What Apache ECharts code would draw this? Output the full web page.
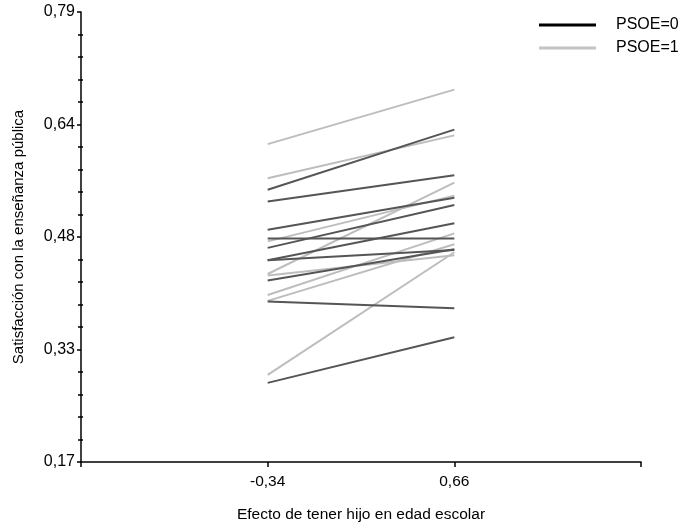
<!DOCTYPE html>
<html>
<head>
<meta charset="utf-8">
<script src="https://cdn.jsdelivr.net/npm/echarts@6/dist/echarts.min.js"></script>
<style>html,body{margin:0;padding:0;background:#fff}#c{width:695px;height:528px}</style>
</head>
<body>
<div id="c"></div>
<script>
// x positions (centred values of "tener hijo en edad escolar")
const xValues = [-0.34, 0.66];
const xTickLabels = ['-0,34', '0,66'];
const yTickLabels = ['0,17', '0,33', '0,48', '0,64', '0,79'];

// PSOE=0 lines: value at x=-0.34 and at x=0.66
const psoe0Left  = [0.545, 0.529, 0.490, 0.478, 0.465, 0.448, 0.448, 0.420, 0.391, 0.279];
const psoe0Right = [0.628, 0.565, 0.534, 0.478, 0.524, 0.499, 0.462, 0.463, 0.382, 0.342];
// PSOE=1 lines
const psoe1Left  = [0.608, 0.561, 0.474, 0.429, 0.427, 0.400, 0.392, 0.290];
const psoe1Right = [0.683, 0.620, 0.537, 0.555, 0.455, 0.485, 0.470, 0.459];

const FONT = 'Liberation Sans, Arial, sans-serif';
const darkColor = '#555555';
const lightColor = '#bdbdbd';

function makeSeries(name, left, right, color) {
  return left.map((l, i) => ({
    name: name,
    type: 'line',
    symbol: 'none',
    silent: true,
    lineStyle: { color: color, width: 2 },
    itemStyle: { color: color },
    data: [[xValues[0], l], [xValues[1], right[i]]]
  }));
}

const series = [].concat(
  makeSeries('PSOE=1', psoe1Left, psoe1Right, lightColor),
  makeSeries('PSOE=0', psoe0Left, psoe0Right, darkColor)
);

const yMin = 0.17, yMax = 0.79, yStep = 0.155;

const chart = echarts.init(document.getElementById('c'), null, { renderer: 'canvas' });
chart.setOption({
  animation: false,
  backgroundColor: '#ffffff',
  grid: { left: 81, right: 54, top: 12, bottom: 62, containLabel: false },
  legend: {
    orient: 'vertical',
    left: 534,
    top: 12,
    itemWidth: 57,
    itemHeight: 3,
    itemGap: 7,
    selectedMode: false,
    textStyle: { fontFamily: FONT, fontSize: 16, color: '#000', padding: [0, 0, 0, 15] },
    data: [
      { name: 'PSOE=0', icon: 'rect', itemStyle: { color: '#000' } },
      { name: 'PSOE=1', icon: 'rect', itemStyle: { color: '#c4c4c4' } }
    ]
  },
  xAxis: {
    type: 'value',
    min: -1.34,
    max: 1.66,
    interval: 1,
    name: 'Efecto de tener hijo en edad escolar',
    nameLocation: 'middle',
    nameGap: 45,
    nameTextStyle: { fontFamily: FONT, fontSize: 15.5, color: '#000' },
    axisLine: { show: true, onZero: false, lineStyle: { color: '#000', width: 1.5 } },
    axisTick: { show: true, length: 5, lineStyle: { color: '#000', width: 1.5 } },
    axisLabel: {
      fontFamily: FONT, fontSize: 15.5, color: '#000', margin: 12,
      formatter: function (v) {
        const idx = xValues.findIndex(x => Math.abs(x - v) < 1e-6);
        return idx >= 0 ? xTickLabels[idx] : '';
      }
    },
    splitLine: { show: false }
  },
  yAxis: [{
    type: 'value',
    min: yMin,
    max: yMax,
    interval: yStep,
    name: 'Satisfacción con la enseñanza pública',
    nameLocation: 'middle',
    nameGap: 55,
    nameTextStyle: { fontFamily: FONT, fontSize: 15, color: '#000' },
    axisLine: { show: true, onZero: false, lineStyle: { color: '#000', width: 1.5 } },
    axisTick: { show: true, length: 4, lineStyle: { color: '#000', width: 1.5 } },
    minorTick: { show: true, splitNumber: 5, length: 3, lineStyle: { color: '#000', width: 1.5 } },
    axisLabel: {
      fontFamily: FONT, fontSize: 16, color: '#000', margin: 6,
      formatter: function (v) {
        const idx = Math.round((v - yMin) / yStep);
        return yTickLabels[idx] !== undefined ? yTickLabels[idx] : '';
      }
    },
    splitLine: { show: false }
  }, {
    type: 'value',
    position: 'left',
    min: yMin,
    max: yMax,
    interval: yStep,
    axisLine: { show: false, onZero: false },
    axisTick: { show: false, inside: true },
    minorTick: { show: true, splitNumber: 5, length: 2, lineStyle: { color: '#000', width: 1.5 } },
    axisLabel: { show: false },
    splitLine: { show: false }
  }],
  series: series
});
</script>
</body>
</html>
